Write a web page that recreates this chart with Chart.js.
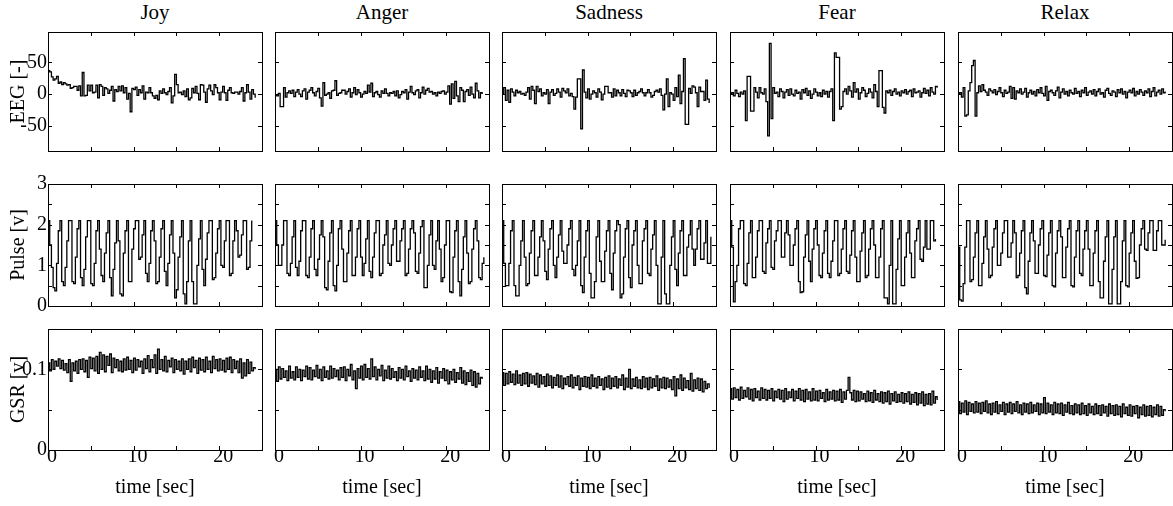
<!DOCTYPE html>
<html>
<head>
<meta charset="utf-8">
<script src="https://cdn.jsdelivr.net/npm/chart.js@4.4.0/dist/chart.umd.min.js"></script>
<style>
  body { margin: 0; background: #fff; }
  #fig { position: relative; width: 1173px; height: 506px; overflow: hidden; font-family: 'Liberation Serif', serif; }
  .cell { position: absolute; }
  .coltitle { position: absolute; top: 0; width: 214px; text-align: center; font-size: 21px; line-height: 24px; color: #000; }
</style>
</head>
<body>
<div id="fig"></div>
<script>
// categories
const emotions = ['Joy', 'Anger', 'Sadness', 'Fear', 'Relax'];
const signals = ['EEG [-]', 'Pulse [v]', 'GSR [v]'];
const step = 0.2; // sampling interval, sec

// tick labels / tick marks
const timeTicks = [0, 10, 20];
const timeMarks = [5, 10, 15, 20];
const eegTicks = [-50, 0, 50];
const eegMarks = [-50, 0, 50];
const pulseTicks = [0, 1, 2, 3];
const pulseMarks = [0.5, 1, 1.5, 2, 2.5];
const gsrTicks = [0, 0.1];
const gsrMarks = [0.05, 0.1];

// EEG [-]
const eegJoy = [37, 35, 27, 22, 24, 28, 17, 19, 15, 18,
  16, 14, 15, 9, 10, 12, 12, 6, 13, -3,
  34, -3, -2, 14, 5, 14, 2, 3, 14, -6,
  15, 12, -2, 10, 8, 1, 6, 12, -11, 7,
  4, 12, 5, 13, 2, 10, -8, 1, -28, 9,
  7, 11, -2, 7, 2, 13, -8, 3, 2, 10,
  2, -3, -7, -2, -9, 5, 1, 8, 2, -1,
  4, 10, -14, -3, 31, 15, 2, 3, -1, 5,
  -4, 8, -9, -6, 9, 2, 12, 1, -9, 15,
  14, 3, -13, 8, 14, 5, -1, 15, 10, 2,
  -9, 3, 12, 2, -10, 6, 10, 2, 1, 3,
  3, 0, 4, 10, -11, 2, 15, 3, -8, 7, 0, -6];
const eegAnger = [-2, -3, 1, -20, -20, 10, -5, 2, 5, 1,
  6, -4, 3, 7, 0, -4, 5, 8, -8, 3,
  6, 10, 2, -3, 4, 9, -6, -19, 18, -2,
  0, 2, -7, 5, 6, 21, -2, 1, 2, 6,
  6, 0, 4, 8, -5, 2, 10, -1, 7, 2,
  -5, 0, 4, 1, 14, 3, 17, -4, 2, 4,
  -1, -5, 5, 1, 8, 1, -3, 2, 1, 4,
  -3, 5, -6, -1, 4, 2, 7, -8, 3, 12,
  2, -1, 5, 7, -6, 2, 11, 0, 6, 9,
  3, 4, 0, 2, -3, 3, 1, 4, 5, 0,
  3, 13, -16, 16, -7, 20, -3, -12, 10, 6,
  -12, 4, 7, -2, 11, 0, -6, 17, 5, -6, 2, 0];
const eegSadness = [1, 10, -10, 6, -13, 8, 3, -3, 6, 2,
  4, 0, 1, -2, 3, 10, -8, 12, 6, -15,
  12, 4, 8, -3, 2, 0, 7, -15, 3, 7,
  -2, 1, 8, 3, -5, 9, 5, 2, 8, -3,
  1, -4, -24, -5, 24, 24, -55, 38, 3, -6,
  8, -8, 0, 5, 2, -5, 8, 3, -9, 0,
  12, 12, 2, 2, -5, 8, -3, 6, 2, -3,
  7, 1, -4, 6, 5, 2, -4, 6, -2, 2,
  4, 8, 2, -3, 2, 7, 2, -5, -2, 4,
  6, 3, 8, -2, -25, 0, 24, -20, 2, 0,
  -10, 10, -4, 30, -15, 4, 56, -48, -48, 9,
  1, 13, 11, 2, -20, 11, 4, 4, -10, 22, -8, -14];
const eegFear = [0, 2, -3, 6, 1, -4, 3, 0, 5, -42,
  28, 28, -27, -27, 10, 3, -6, 10, 2, 0,
  8, -12, -66, 80, -39, 10, 1, 3, -4, 8,
  4, -6, 3, 7, -2, 8, 0, -3, 6, 1,
  3, -8, 7, 2, 9, -2, 5, -7, 0, 8,
  3, -3, 2, -4, 6, 0, 4, -5, 4, 8,
  -42, 65, 58, 58, -24, -20, 4, 8, 0, 12,
  5, -5, 18, 3, 8, -8, 2, 10, 6, -4,
  1, 8, 3, -6, 15, 4, -20, 37, 37, -21,
  -30, 5, 2, 6, -2, 4, 8, 0, 3, -3,
  5, 2, 7, 0, 4, 6, -4, 8, 2, 3,
  5, -5, 2, 9, 1, 6, -3, 10, 3, 0, 12, 10];
const eegRelax = [0, 2, -5, 10, -35, -33, 5, 18, 45, 53,
  -35, 2, 13, 4, 15, 6, 3, -2, 8, 5,
  2, 7, -1, 4, 10, 2, -4, 6, 1, 3,
  12, -7, 10, -8, 5, 2, 8, 0, 3, 9,
  -5, 2, 6, 0, 4, -3, 7, 2, 10, 1,
  -3, 12, -10, 4, 6, 2, -2, 5, 11, -6,
  3, 8, 0, 4, -3, 6, 2, 0, 9, 1,
  4, -4, 6, 2, 10, -2, 3, 5, 0, 7,
  -3, 4, 8, 0, 2, -5, 6, 9, 1, -2,
  5, 3, -4, 7, 2, 8, 0, 4, -6, 3,
  6, 2, 9, -3, 4, 0, 7, 3, -2, 5,
  2, 8, -4, 4, 10, -3, 3, 6, 0, 8, 2, 4];

// Pulse [v]
const pulseJoy = [2.1, 1.5, 0.95, 0.45, 0.37, 1.05, 1.85,
  2.1, 0.6, 0.5, 0.95, 1.6,
  2.1, 2.1, 0.6, 0.55, 1.2, 1.9,
  2.1, 0.7, 0.5, 0.9, 1.7,
  2.1, 2.1, 0.55, 0.5, 1.05, 1.85,
  2.1, 1.4, 0.75, 0.6, 1.3, 1.8,
  2.1, 0.7, 0.25, 0.9, 1.55,
  2.1, 1.6, 0.3, 0.25, 1.3, 1.85,
  2.1, 0.6, 0.6, 1.4, 1.9,
  2.1, 2.1, 1.15, 1.2, 1.75,
  2.1, 0.8, 0.6, 1.05, 1.85,
  2.1, 1.6, 0.55, 0.6, 1.2, 1.9,
  2.1, 0.85, 0.5, 1.05, 1.75,
  2.1, 1.3, 0.2, 0.4, 1.2, 1.7,
  2.1, 0.3, 0.05, 0.6, 1.6,
  2.1, 0.6, 0.05, 0.05, 1.0, 1.65,
  2.1, 0.9, 0.5, 1.15, 1.8,
  2.1, 2.1, 0.65, 0.7, 1.3, 1.9,
  2.1, 1.0, 0.95, 1.6,
  2.1, 2.1, 0.75, 0.8, 1.6,
  2.1, 1.85, 1.2, 1.25, 1.75,
  2.1, 2.1, 0.9, 0.95, 1.6, 2.1];
const pulseAnger = [2.1, 1.5, 1.0, 1.0, 1.5, 2.1,
  2.1, 0.8, 0.75, 1.05, 1.7,
  2.1, 0.95, 0.75, 1.1, 1.85,
  2.1, 2.1, 0.75, 0.7, 1.2, 1.9,
  2.1, 0.9, 0.75, 1.15, 1.75,
  2.1, 1.7, 0.45, 0.4, 1.1, 1.8,
  2.1, 0.5, 0.37, 1.0, 1.9,
  2.1, 1.4, 0.6, 0.6, 1.3, 1.85,
  2.1, 0.75, 0.75, 1.2, 1.9,
  2.1, 1.2, 0.75, 1.05, 1.65,
  2.1, 0.85, 0.7, 1.2, 1.8,
  2.1, 2.1, 0.75, 0.8, 1.5, 1.75,
  2.1, 1.05, 1.0, 1.5, 1.9,
  2.1, 1.1, 1.1, 1.6, 1.9,
  2.1, 0.75, 0.8, 1.4, 1.9,
  2.1, 1.8, 0.85, 0.8, 1.3, 1.95,
  2.1, 0.45, 0.45, 1.0, 1.75,
  2.1, 1.0, 0.9, 1.6,
  2.1, 1.4, 0.6, 0.7, 1.5,
  2.1, 2.1, 0.35, 0.33, 1.2, 1.85,
  2.1, 0.6, 0.25, 0.9, 1.7,
  2.1, 1.3, 0.55, 0.6, 1.4, 1.9,
  2.1, 1.6, 0.7, 0.65, 1.05, 1.2];
const pulseSadness = [2.1, 1.05, 0.5, 0.5, 1.05, 1.85,
  2.1, 0.5, 0.25, 0.25, 1.0, 1.6,
  2.1, 1.2, 0.5, 0.55, 1.3, 1.85,
  2.1, 0.75, 0.75, 1.2, 1.7,
  2.1, 1.6, 0.85, 0.65, 1.4, 1.9,
  2.1, 1.0, 0.7, 1.2, 1.75,
  2.1, 1.35, 1.05, 1.05, 1.5, 1.9,
  2.1, 0.9, 0.75, 1.0, 1.6,
  2.1, 0.5, 0.33, 1.2, 1.85,
  2.1, 0.8, 0.2, 0.2, 0.6, 1.7,
  2.1, 1.1, 0.6, 0.6, 1.35, 1.85,
  2.1, 0.8, 0.4, 1.3, 1.85,
  2.1, 2.0, 0.2, 0.3, 1.2, 1.9,
  2.1, 0.7, 0.45, 1.5, 1.85,
  2.1, 1.0, 0.55, 0.55, 1.6, 1.9,
  2.1, 0.8, 0.75, 1.4, 1.75,
  2.1, 1.0, 0.05, 0.05, 1.2,
  2.1, 0.3, 0.05, 0.05, 1.0, 1.7,
  2.1, 0.9, 0.5, 1.3, 1.85,
  2.1, 0.75, 0.75, 1.45, 1.75,
  2.1, 1.4, 1.0, 1.4, 1.9,
  2.1, 1.15, 1.15, 1.55,
  2.1, 1.05, 1.05, 1.7];
const pulseFear = [2.1, 1.45, 0.1, 0.6, 1.0, 1.9,
  2.1, 2.1, 0.55, 0.5, 1.05, 1.8,
  2.1, 0.7, 0.7, 1.2, 1.85,
  2.1, 2.1, 0.85, 0.8, 1.55, 1.9,
  2.1, 0.95, 0.9, 1.6, 1.85,
  2.1, 2.1, 1.2, 1.2, 1.8,
  2.1, 1.75, 1.0, 1.0, 1.5, 1.9,
  2.1, 0.6, 0.33, 0.35, 1.2, 1.75,
  2.1, 1.1, 0.6, 1.4, 1.9,
  2.1, 1.5, 0.75, 0.7, 1.3, 1.85,
  2.1, 0.8, 0.7, 1.1, 1.6,
  2.1, 2.1, 0.75, 0.8, 1.4, 1.9,
  2.1, 0.85, 0.8, 1.25, 1.85,
  2.1, 1.2, 0.6, 0.6, 1.35, 1.8,
  2.1, 0.7, 0.75, 1.4, 1.9,
  2.1, 1.5, 0.7, 0.7, 1.2, 1.9,
  2.1, 0.2, 0.2, 0.05, 1.0,
  2.1, 0.05, 0.05, 0.9, 1.65,
  2.1, 0.5, 0.5, 1.2, 1.8,
  2.1, 1.3, 0.7, 0.7, 1.6, 1.9,
  2.1, 1.15, 1.1, 1.45,
  2.1, 1.4, 1.4, 2.1, 2.1,
  1.6, 1.65];
const pulseRelax = [1.45, 0.15, 0.12, 0.55, 1.45, 2.1,
  2.1, 0.6, 0.65, 1.2, 1.8,
  2.1, 0.5, 0.5, 1.05, 1.7,
  2.1, 1.4, 0.7, 0.75, 1.45, 1.9,
  2.1, 1.0, 1.0, 1.3, 1.8,
  2.1, 2.1, 1.2, 1.2, 1.55,
  2.1, 1.8, 0.7, 0.75, 1.3, 1.85,
  2.1, 0.45, 0.3, 1.1, 1.8,
  2.1, 1.6, 0.8, 0.8, 1.5, 1.9,
  2.1, 0.75, 0.72, 1.25, 1.8,
  2.1, 0.5, 0.47, 1.3, 1.85,
  2.1, 1.7, 0.7, 0.7, 1.45, 1.9,
  2.1, 0.5, 0.47, 1.2, 1.85,
  2.1, 0.8, 0.75, 1.4, 1.85,
  2.1, 1.4, 0.5, 0.5, 1.3, 1.85,
  2.1, 0.6, 0.2, 0.2, 1.1, 1.7,
  2.1, 0.05, 0.05, 0.9, 1.7,
  2.1, 0.05, 0.05, 0.6, 1.6,
  2.1, 0.5, 0.47, 1.3, 1.8,
  2.1, 1.1, 0.68, 0.7, 1.5, 1.9,
  2.1, 1.4, 1.37, 1.8,
  2.1, 2.1, 1.37, 1.37, 1.85,
  2.1, 2.1, 1.5, 1.5, 1.63];

// GSR [v]
const gsrJoy = [.108, .098, .112, .100, .110, .104, .113, .101, .111, .099,
  .107, .096, .112, .085, .108, .098, .110, .095, .112, .100,
  .113, .097, .111, .090, .115, .101, .114, .098, .116, .095,
  .121, .100, .118, .097, .116, .105, .119, .096, .114, .102,
  .112, .098, .110, .097, .113, .099, .115, .100, .111, .096,
  .114, .099, .112, .103, .110, .095, .113, .101, .117, .097,
  .112, .102, .118, .095, .125, .100, .112, .098, .116, .097,
  .111, .103, .114, .096, .112, .100, .110, .098, .113, .094,
  .110, .100, .113, .097, .115, .102, .111, .095, .114, .099,
  .112, .097, .115, .100, .110, .096, .116, .101, .112, .098,
  .113, .099, .111, .097, .114, .100, .115, .096, .112, .101,
  .110, .096, .113, .089, .108, .092, .112, .095, .109, .098, .102, .100];
const gsrAnger = [.100, .085, .103, .088, .101, .090, .098, .086, .104, .089,
  .097, .087, .103, .090, .100, .086, .099, .091, .104, .088,
  .102, .087, .099, .091, .105, .089, .100, .086, .103, .090,
  .098, .088, .104, .089, .101, .091, .099, .087, .102, .090,
  .103, .086, .100, .092, .106, .087, .098, .076, .101, .089,
  .104, .087, .106, .090, .101, .088, .113, .091, .103, .087,
  .100, .092, .105, .086, .099, .089, .104, .088, .101, .090,
  .097, .086, .102, .089, .100, .087, .104, .091, .098, .085,
  .101, .089, .099, .087, .103, .090, .098, .086, .104, .088,
  .100, .084, .098, .088, .102, .083, .097, .089, .101, .086,
  .099, .082, .097, .087, .100, .084, .096, .088, .102, .083,
  .098, .081, .096, .085, .099, .080, .097, .078, .095, .082, .090, .088];
const gsrSadness = [.096, .080, .095, .082, .097, .084, .094, .081, .098, .083,
  .093, .080, .095, .082, .096, .079, .094, .083, .092, .081,
  .095, .078, .093, .082, .091, .079, .094, .080, .092, .077,
  .090, .080, .093, .078, .092, .076, .089, .081, .091, .079,
  .093, .077, .090, .080, .092, .075, .089, .079, .091, .078,
  .090, .076, .093, .079, .089, .077, .091, .080, .088, .075,
  .090, .078, .092, .076, .089, .079, .091, .077, .088, .080,
  .093, .075, .089, .078, .100, .076, .088, .079, .090, .077,
  .087, .076, .091, .078, .089, .075, .090, .077, .088, .079,
  .092, .074, .088, .077, .090, .076, .089, .078, .087, .075,
  .091, .067, .088, .076, .093, .074, .089, .077, .086, .075,
  .095, .073, .087, .076, .089, .074, .088, .072, .085, .076, .082, .077];
const gsrFear = [.076, .063, .077, .065, .075, .062, .078, .064, .074, .066,
  .077, .063, .075, .061, .076, .065, .073, .062, .077, .064,
  .075, .062, .074, .064, .076, .061, .073, .065, .075, .063,
  .074, .060, .076, .063, .072, .065, .075, .061, .073, .064,
  .076, .062, .074, .060, .075, .063, .072, .061, .076, .062,
  .073, .061, .074, .064, .071, .060, .075, .062, .072, .063,
  .074, .061, .073, .062, .075, .059, .072, .063, .074, .090,
  .071, .062, .074, .060, .073, .061, .072, .063, .070, .060,
  .073, .061, .071, .059, .074, .062, .070, .060, .072, .058,
  .071, .060, .073, .057, .070, .061, .072, .059, .069, .060,
  .071, .058, .070, .060, .072, .057, .069, .059, .071, .056,
  .070, .058, .072, .055, .069, .057, .070, .056, .073, .058, .066, .062];
const gsrRelax = [.060, .045, .058, .047, .061, .044, .059, .048, .057, .046,
  .060, .047, .058, .045, .059, .048, .061, .046, .057, .044,
  .058, .047, .060, .045, .056, .048, .059, .044, .057, .047,
  .059, .045, .057, .048, .060, .046, .056, .044, .058, .047,
  .057, .045, .059, .046, .056, .048, .058, .044, .057, .046,
  .065, .045, .058, .047, .056, .044, .059, .046, .057, .045,
  .058, .043, .056, .047, .059, .045, .055, .044, .057, .046,
  .056, .044, .058, .045, .055, .043, .057, .046, .054, .044,
  .057, .045, .055, .043, .056, .046, .054, .042, .057, .045,
  .055, .043, .056, .044, .054, .041, .057, .045, .053, .043,
  .056, .042, .054, .045, .055, .040, .053, .044, .056, .042,
  .054, .043, .055, .041, .053, .044, .056, .042, .054, .043, .050, .048];

// layout of the 5x3 grid (page pixels)
const colLeft = [48, 275, 502, 730, 958];
const plotWidth = 214;
const rowTop = [32, 184, 329];
const rowHeight = [119, 122, 121];

const rows = [
  { label: signals[0], series: [eegJoy, eegAnger, eegSadness, eegFear, eegRelax], min: -90, max: 98, ticks: eegTicks, marks: eegMarks },
  { label: signals[1], series: [pulseJoy, pulseAnger, pulseSadness, pulseFear, pulseRelax], min: 0, max: 3, ticks: pulseTicks, marks: pulseMarks },
  { label: signals[2], series: [gsrJoy, gsrAnger, gsrSadness, gsrFear, gsrRelax], min: 0, max: 0.15, ticks: gsrTicks, marks: gsrMarks }
];

Chart.defaults.font.family = "'Liberation Serif', 'Times New Roman', serif";
Chart.defaults.color = '#000';

// box + inward ticks on all four sides
const frame = {
  id: 'frame',
  afterDatasetsDraw(chart, args, opts) {
    const { ctx, chartArea: a, scales: { x, y } } = chart;
    const px = v => Math.round(v) + 0.5;
    ctx.save();
    ctx.strokeStyle = '#000';
    ctx.lineWidth = 1;
    ctx.strokeRect(px(a.left), px(a.top), Math.round(a.right) - Math.round(a.left), Math.round(a.bottom) - Math.round(a.top));
    ctx.beginPath();
    opts.xMarks.forEach(v => {
      const p = px(x.getPixelForValue(v));
      ctx.moveTo(p, a.top); ctx.lineTo(p, a.top + 4);
      ctx.moveTo(p, a.bottom); ctx.lineTo(p, a.bottom - 4);
    });
    opts.yMarks.forEach(v => {
      const p = px(y.getPixelForValue(v));
      ctx.moveTo(a.left, p); ctx.lineTo(a.left + 4, p);
      ctx.moveTo(a.right, p); ctx.lineTo(a.right - 4, p);
    });
    ctx.stroke();
    ctx.restore();
  }
};

const fig = document.getElementById('fig');

emotions.forEach((name, c) => {
  const t = document.createElement('div');
  t.className = 'coltitle';
  t.style.left = colLeft[c] + 'px';
  t.textContent = name;
  fig.appendChild(t);
});

rows.forEach((row, r) => {
  emotions.forEach((name, c) => {
    const isLeft = c === 0;
    const isBottom = r === 2;
    const padL = isLeft ? 48 : 6, padR = 6, padT = 14;
    const padB = isBottom ? 506 - rowTop[r] - rowHeight[r] : 14;

    const cv = document.createElement('canvas');
    cv.className = 'cell';
    cv.width = padL + plotWidth + padR;
    cv.height = padT + rowHeight[r] + padB;
    cv.style.left = (colLeft[c] - padL) + 'px';
    cv.style.top = (rowTop[r] - padT) + 'px';
    fig.appendChild(cv);

    const points = row.series[c].map((v, i) => ({ x: i * step, y: v }));

    new Chart(cv, {
      type: 'line',
      data: {
        datasets: [{
          data: points,
          borderColor: '#000',
          borderWidth: 1.3,
          pointRadius: 0,
          stepped: true,
          fill: false
        }]
      },
      options: {
        responsive: false,
        animation: false,
        events: [],
        layout: { padding: { left: isLeft ? 0 : padL, right: padR, top: padT, bottom: isBottom ? 0 : padB } },
        plugins: {
          legend: { display: false },
          tooltip: { enabled: false },
          frame: { xMarks: timeMarks, yMarks: row.marks }
        },
        scales: {
          x: {
            type: 'linear', min: 0, max: 25, display: isBottom,
            grid: { display: false, drawTicks: false },
            border: { display: false },
            afterBuildTicks: s => { s.ticks = timeTicks.map(v => ({ value: v })); },
            afterFit: s => { s.height = isBottom ? padB : 0; },
            ticks: { padding: -3, labelOffset: 4, autoSkip: false, maxRotation: 0, font: { size: 20, lineHeight: 1 }, callback: v => String(v) },
            title: { display: true, text: 'time [sec]', font: { size: 20 }, padding: { top: 0, bottom: 6 } }
          },
          y: {
            min: row.min, max: row.max, display: isLeft,
            grid: { display: false, drawTicks: false },
            border: { display: false },
            afterBuildTicks: s => { s.ticks = row.ticks.map(v => ({ value: v })); },
            afterFit: s => { s.width = isLeft ? 48 : 0; },
            ticks: { padding: 1, autoSkip: false, font: { size: 20, lineHeight: 1 }, callback: v => String(v) },
            title: { display: true, text: row.label, font: { size: 20 }, padding: { top: 7, bottom: 0 } }
          }
        }
      },
      plugins: [frame]
    });
  });
});
</script>
</body>
</html>
